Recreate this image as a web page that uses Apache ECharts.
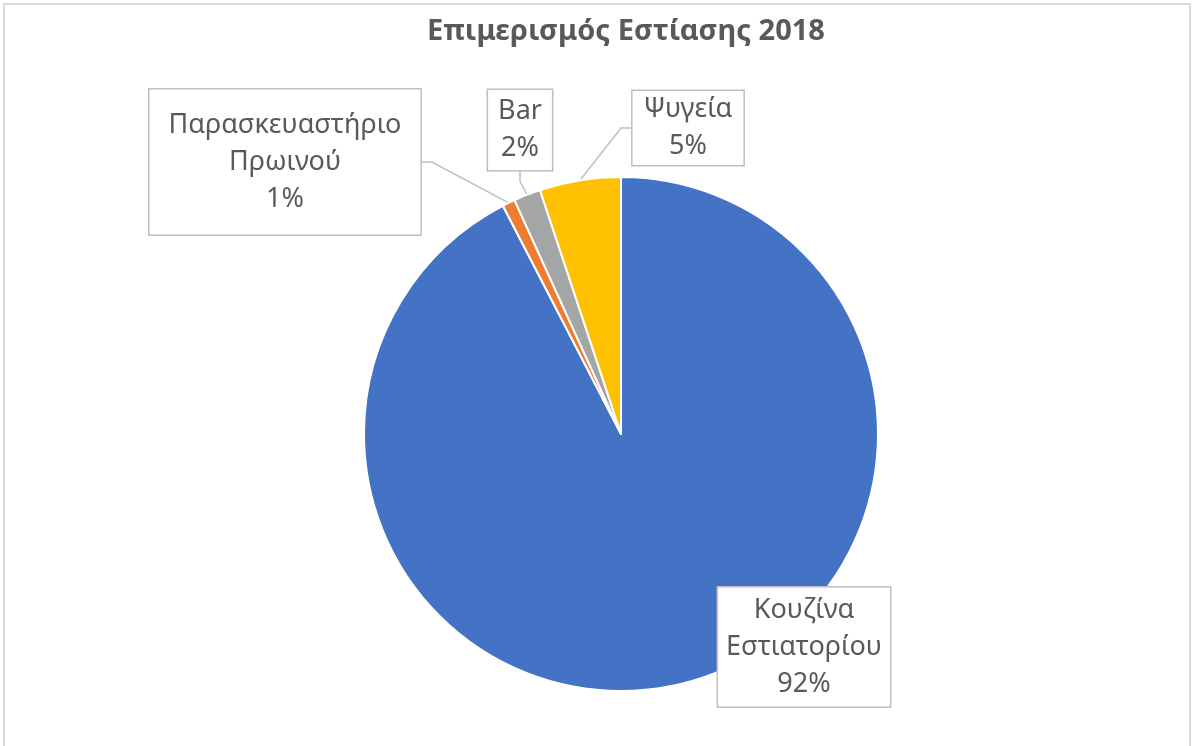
<!DOCTYPE html>
<html>
<head>
<meta charset="utf-8">
<title>Επιμερισμός Εστίασης 2018</title>
<script src="https://cdn.jsdelivr.net/npm/echarts@6/dist/echarts.min.js"></script>
<style>
  html, body { margin: 0; padding: 0; background: #ffffff; }
  #chart { width: 1192px; height: 746px; }
</style>
</head>
<body>
<div id="chart"></div>
<script>
// Catering energy split, 2018 (shares by area)
const categories = ['Κουζίνα Εστιατορίου', 'Παρασκευαστήριο Πρωινού', 'Bar', 'Ψυγεία'];
const labelTexts = ['Κουζίνα\nΕστιατορίου', 'Παρασκευαστήριο\nΠρωινού', 'Bar', 'Ψυγεία'];
const shares = [92.4, 0.8, 1.7, 5.1];
const colors = ['#4472c4', '#ed7d31', '#a5a5a5', '#ffc000'];

// callout box centres and paddings
const calloutPos = [[804, 647], [285, 162], [520, 130], [688, 128]];
const calloutPad = [[4, 8], [17, 19], [3, 10], [0, 11]];

const FONT = '"Noto Sans", "DejaVu Sans", sans-serif';
const TEXT = '#595959';

const chart = echarts.init(document.getElementById('chart'));

const data = categories.map((name, i) => ({
  name: name,
  value: shares[i],
  itemStyle: { color: colors[i] },
  label: { padding: calloutPad[i] }
}));

chart.setOption({
  animation: false,
  title: {
    text: 'Επιμερισμός Εστίασης 2018',
    left: 422,
    top: 12,
    textStyle: { fontFamily: FONT, fontSize: 29, fontWeight: 'bold', color: TEXT }
  },
  graphic: [{
    type: 'rect',
    shape: { x: 4, y: 4, width: 1186, height: 760 },
    style: { fill: 'none', stroke: '#d9d9d9', lineWidth: 2 },
    silent: true,
    z: -1
  }],
  series: [{
    type: 'pie',
    center: [621, 434],
    radius: 257,
    startAngle: 90,
    clockwise: true,
    percentPrecision: 0,
    itemStyle: { borderColor: '#ffffff', borderWidth: 2 },
    label: {
      show: true,
      formatter: p => labelTexts[p.dataIndex] + '\n' + p.percent + '%',
      fontFamily: FONT,
      fontSize: 27,
      lineHeight: 37,
      color: TEXT,
      align: 'center',
      backgroundColor: '#ffffff',
      borderColor: '#bfbfbf',
      borderWidth: 1.5
    },
    labelLine: {
      show: true,
      length: 10,
      length2: 10,
      lineStyle: { color: '#bfbfbf', width: 1.5 }
    },
    labelLayout: params => ({
      x: calloutPos[params.dataIndex][0],
      y: calloutPos[params.dataIndex][1],
      align: 'center',
      verticalAlign: 'middle'
    }),
    emphasis: { disabled: true },
    data: data
  }]
});
</script>
</body>
</html>
